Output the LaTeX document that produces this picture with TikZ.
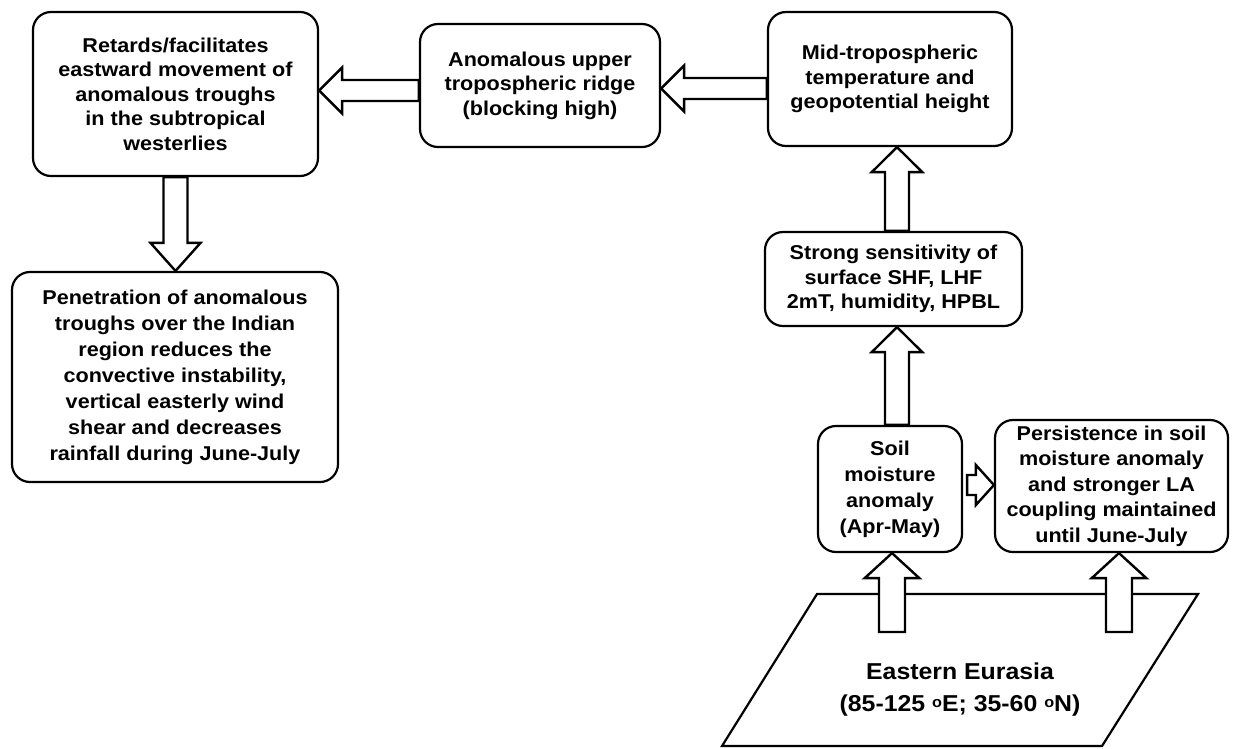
\documentclass[tikz,border=0pt]{standalone}
\usepackage{fontspec}
\setmainfont{Liberation Sans}[FakeStretch=1.08]
\usetikzlibrary{calc}
\tikzset{
  box/.style={draw, line width=2.2pt, rounded corners=18pt, align=center, inner sep=0pt,
    font=\fontsize{20}{24.5}\selectfont\bfseries, fill=white},
  barrow/.style={draw, line width=2.4pt, fill=white, line join=miter},
}
\newcommand\barup[3][12]{%
  \draw[barrow] let \p1=(#2), \p2=(#3), \n1={#1pt}, \n2={#1pt*2.1} in
   (\x1-\n1,\y1) -- (\x1-\n1,\y2-25pt) -- (\x1-\n2,\y2-25pt) -- (\x1,\y2)
   -- (\x1+\n2,\y2-25pt) -- (\x1+\n1,\y2-25pt) -- (\x1+\n1,\y1) -- cycle;}
\newcommand\bardown[2]{%
  \draw[barrow] let \p1=(#1), \p2=(#2) in
   (\x1-12pt,\y1) -- (\x1-12pt,\y2+28pt) -- (\x1-25pt,\y2+28pt) -- (\x1,\y2)
   -- (\x1+25pt,\y2+28pt) -- (\x1+12pt,\y2+28pt) -- (\x1+12pt,\y1) -- cycle;}
\newcommand\barleft[2]{%
  \draw[barrow] let \p1=(#1), \p2=(#2) in
   (\x1,\y1+10.5pt) -- (\x2+23pt,\y1+10.5pt) -- (\x2+23pt,\y1+23pt) -- (\x2,\y1)
   -- (\x2+23pt,\y1-23pt) -- (\x2+23pt,\y1-10.5pt) -- (\x1,\y1-10.5pt) -- cycle;}
\newcommand\barright[2]{%
  \draw[barrow] let \p1=(#1), \p2=(#2) in
   (\x1+4pt,\y1+10pt) -- (\x2-18pt,\y1+10pt) -- (\x2-18pt,\y1+20pt) -- (\x2,\y1)
   -- (\x2-18pt,\y1-20pt) -- (\x2-18pt,\y1-10pt) -- (\x1+4pt,\y1-10pt) -- cycle;}
\begin{document}
\begin{tikzpicture}[x=1pt,y=-1pt]
\useasboundingbox (0,0) rectangle (1238,748);
\fill[white] (0,0) rectangle (1238,748);

\node[box, minimum width=285, minimum height=164] (A) at (175.5,94)
  {Retards/facilitates\\eastward movement of\\anomalous troughs\\in the subtropical\\westerlies};
\node[box, minimum width=240, minimum height=123] (B) at (540,85.5)
  {Anomalous upper\\tropospheric ridge\\(blocking high)};
\node[box, minimum width=244, minimum height=134] (C) at (890,79)
  {Mid-tropospheric\\temperature and\\geopotential height};
\node[box, minimum width=257, minimum height=94] (D) at (893.5,279)
  {Strong sensitivity of\\surface SHF, LHF\\2mT, humidity, HPBL};
\node[box, minimum width=144, minimum height=126, font=\fontsize{20}{26}\selectfont\bfseries] (E) at (890,489)
  {Soil\\moisture\\anomaly\\(Apr-May)};
\node[box, minimum width=233, minimum height=132, font=\fontsize{20}{25.5}\selectfont\bfseries] (F) at (1111.5,486)
  {Persistence in soil\\moisture anomaly\\and stronger LA\\coupling maintained\\until June-July};
\node[box, minimum width=326, minimum height=210, font=\fontsize{20}{26}\selectfont\bfseries] (G) at (175,377)
  {Penetration of anomalous\\troughs over the Indian\\region reduces the\\convective instability,\\vertical easterly wind\\shear and decreases\\rainfall during June-July};

% parallelogram region
\draw[line width=2.2pt, line join=miter] (817,594) -- (1198,594) -- (1102,746) -- (722,746) -- cycle;
\node[font=\fontsize{23}{32}\selectfont\bfseries, align=center] (P) at (960,690)
  {Eastern Eurasia\\(85-125 \raisebox{0.35ex}{\fontsize{15}{15}\selectfont o}E; 35-60 \raisebox{0.35ex}{\fontsize{15}{15}\selectfont o}N)};
\coordinate (p1) at (892,632);
\coordinate (p2) at (1119,632);

% block arrows
\barleft{$(B.west)+(0,5)$}{A.east}
\barleft{$(C.west |- B.west)+(0,3)$}{B.east}
\bardown{A.south}{G.north}
\barup{$(D.north)+(3.5,0)$}{C.south}
\barup{$(E.north)+(7,0)$}{D.south}
\barright{$(E.east)+(0,-4)$}{F.west}
\barup[13]{p1}{p1 |- E.south}
\barup[13]{p2}{p2 |- F.south}
\end{tikzpicture}
\end{document}
